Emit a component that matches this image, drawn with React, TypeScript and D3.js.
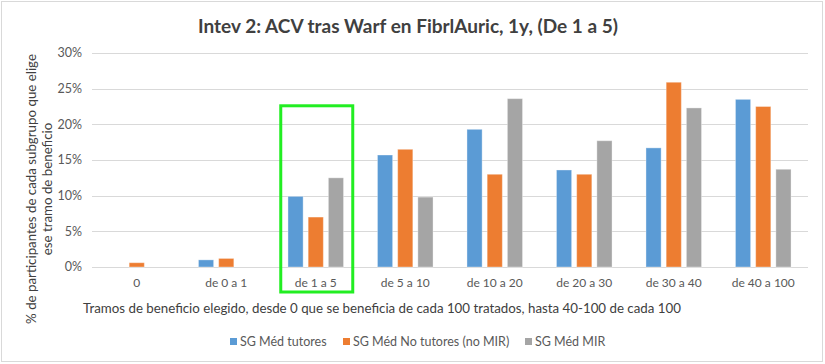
import React, { useEffect, useRef } from "react";
import * as d3 from "d3";

// categories (tramos de beneficio)
const categories = [
  "0",
  "de 0 a 1",
  "de 1 a 5",
  "de 5 a 10",
  "de 10 a 20",
  "de 20 a 30",
  "de 30 a 40",
  "de 40 a 100",
];

const seriesNames = ["SG Méd tutores", "SG Méd No tutores (no MIR)", "SG Méd MIR"];
const seriesColors = ["#5B9BD5", "#ED7D31", "#A5A5A5"];

// values, in %
const tutores = [0, 1.0, 9.9, 15.7, 19.3, 13.6, 16.7, 23.5];
const noTutores = [0.6, 1.2, 7.0, 16.5, 13.0, 13.0, 25.9, 22.5];
const mir = [0, 0, 12.5, 9.8, 23.6, 17.7, 22.3, 13.7];

const yTicks = [0, 5, 10, 15, 20, 25, 30];
const highlightCat = "de 1 a 5";

const title = "Intev 2: ACV tras Warf en FibrlAuric, 1y, (De 1 a 5)";
const yTitleLines = ["% de participantes de cada subgrupo que elige", "ese tramo de beneficio"];
const xTitle =
  "Tramos de beneficio elegido, desde 0 que se beneficia de cada 100 tratados, hasta 40-100 de cada 100";

const FONT = "Lato, 'Open Sans', sans-serif";

export default function App() {
  const svgRef = useRef<SVGSVGElement>(null);
  const width = 825;
  const height = 364;

  useEffect(() => {
    const svg = d3.select(svgRef.current);
    svg.selectAll("*").remove();

    const margin = { left: 92, right: 17, top: 53, bottom: 97 };
    const x0 = d3
      .scaleBand<string>()
      .domain(categories)
      .range([margin.left, width - margin.right]);
    const x1 = d3
      .scaleBand<string>()
      .domain(seriesNames)
      .range([0, x0.bandwidth()])
      .paddingInner(0.25)
      .paddingOuter(0.84);
    const y = d3
      .scaleLinear()
      .domain([0, 30])
      .range([height - margin.bottom, margin.top]);

    // outer frame
    svg
      .append("rect")
      .attr("x", 1.5)
      .attr("y", 1.5)
      .attr("width", width - 4)
      .attr("height", height - 4)
      .attr("fill", "#fff")
      .attr("stroke", "#d9d9d9")
      .attr("stroke-width", 1);

    // title
    svg
      .append("text")
      .attr("x", 408)
      .attr("y", 33)
      .attr("text-anchor", "middle")
      .attr("font-family", FONT)
      .attr("font-size", 19)
      .attr("font-weight", 700)
      .attr("fill", "#404040")
      .text(title);

    // gridlines + y ticks
    const grid = svg.append("g");
    yTicks.forEach((t) => {
      grid
        .append("line")
        .attr("x1", margin.left)
        .attr("x2", width - margin.right)
        .attr("y1", Math.round(y(t)) + 0.5)
        .attr("y2", Math.round(y(t)) + 0.5)
        .attr("stroke", "#d9d9d9")
        .attr("stroke-width", 1);
      grid
        .append("text")
        .attr("x", 82)
        .attr("y", y(t))
        .attr("dy", "0.35em")
        .attr("text-anchor", "end")
        .attr("font-family", FONT)
        .attr("font-size", 12.5)
        .attr("fill", "#595959")
        .text(`${t}%`);
    });

    // bars
    const seriesData = [tutores, noTutores, mir];
    const barsG = svg.append("g");
    seriesData.forEach((vals, si) => {
      barsG
        .selectAll(`rect.s${si}`)
        .data(vals)
        .enter()
        .append("rect")
        .attr("class", `s${si}`)
        .attr("x", (_d, i) => (x0(categories[i]) as number) + (x1(seriesNames[si]) as number))
        .attr("width", x1.bandwidth())
        .attr("y", (d) => y(d))
        .attr("height", (d) => y(0) - y(d))
        .attr("fill", seriesColors[si])
        .attr("stroke", (d) => (d > 0 ? "rgba(255,255,255,0.35)" : "none"))
        .attr("stroke-width", 1);
    });

    // category labels
    svg
      .append("g")
      .selectAll("text")
      .data(categories)
      .enter()
      .append("text")
      .attr("x", (d) => (x0(d) as number) + x0.bandwidth() / 2)
      .attr("y", 287)
      .attr("text-anchor", "middle")
      .attr("font-family", FONT)
      .attr("font-size", 12)
      .attr("fill", "#595959")
      .text((d) => d);

    // highlight box
    const hx = (x0(highlightCat) as number) + x0.bandwidth() / 2;
    svg
      .append("rect")
      .attr("x", hx - 35)
      .attr("y", y(22.6))
      .attr("width", 72)
      .attr("height", 292 - y(22.6))
      .attr("fill", "none")
      .attr("stroke", "#22ee22")
      .attr("stroke-width", 3);

    // x title
    svg
      .append("text")
      .attr("x", 382)
      .attr("y", 313)
      .attr("text-anchor", "middle")
      .attr("font-family", FONT)
      .attr("font-size", 13.3)
      .attr("fill", "#404040")
      .text(xTitle);

    // y title, two lines
    yTitleLines.forEach((line, i) => {
      svg
        .append("text")
        .attr("transform", `translate(${36 + i * 16},189) rotate(-90)`)
        .attr("text-anchor", "middle")
        .attr("font-family", FONT)
        .attr("font-size", 13.3)
        .attr("fill", "#404040")
        .text(line);
    });

    // legend
    const legendX = [230, 343, 525];
    const lg = svg.append("g");
    seriesNames.forEach((name, i) => {
      lg.append("rect")
        .attr("x", legendX[i])
        .attr("y", 338)
        .attr("width", 7)
        .attr("height", 7)
        .attr("fill", seriesColors[i]);
      lg.append("text")
        .attr("x", legendX[i] + 10)
        .attr("y", 341.5)
        .attr("dy", "0.35em")
        .attr("font-family", FONT)
        .attr("font-size", 12.5)
        .attr("fill", "#595959")
        .text(name);
    });
  }, []);

  return (
    <svg
      ref={svgRef}
      width={width}
      height={height}
      style={{ position: "absolute", left: 0, top: 0, display: "block" }}
    />
  );
}
